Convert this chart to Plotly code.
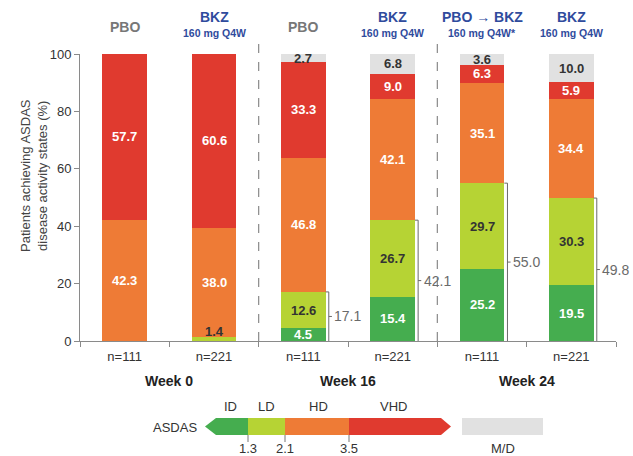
import plotly.graph_objects as go

# ---------------- data ----------------
groups = ["Week 0", "Week 16", "Week 24"]
n_labels = ["n=111", "n=221", "n=111", "n=221", "n=111", "n=221"]
arm_top = ["PBO", "BKZ", "PBO", "BKZ", "PBO \u2192 BKZ", "BKZ"]
arm_sub = ["", "160 mg Q4W", "", "160 mg Q4W", "160 mg Q4W*", "160 mg Q4W"]
id_vals = [0, 0, 4.5, 15.4, 25.2, 19.5]
ld_vals = [0, 1.4, 12.6, 26.7, 29.7, 30.3]
hd_vals = [42.3, 38.0, 46.8, 42.1, 35.1, 34.4]
vhd_vals = [57.7, 60.6, 33.3, 9.0, 6.3, 5.9]
md_vals = [0, 0, 2.7, 6.8, 3.6, 10.0]
responder = [None, None, 17.1, 42.1, 55.0, 49.8]
y_ticks = [0, 20, 40, 60, 80, 100]
legend_states = ["ID", "LD", "HD", "VHD"]
legend_cuts = ["1.3", "2.1", "3.5"]

series = [
    ("ID", id_vals, "#45ad4f", "white"),
    ("LD", ld_vals, "#b6d334", "#333333"),
    ("HD", hd_vals, "#ee7b36", "white"),
    ("VHD", vhd_vals, "#e03a2f", "white"),
    ("M/D", md_vals, "#e1e1e1", "#333333"),
]

FONT = "Liberation Sans, Arial, sans-serif"
W, H = 633, 456
L, R, T, B = 80, 17, 54, 115
PW, PH = W - L - R, H - T - B


def fx(px):
    return (px - L) / PW


def fy(py):
    return (H - B - py) / PH


ann = []
shapes = []


def A(x, y, text, xref="paper", yref="paper", size=13, color="#333333", xanchor="center",
      yanchor="middle", **kw):
    ann.append(dict(x=x, y=y, xref=xref, yref=yref, text=text, showarrow=False, xanchor=xanchor,
                    yanchor=yanchor, font=dict(size=size, color=color, family=FONT), **kw))


xs = list(range(len(n_labels)))
fig = go.Figure()
for name, vals, col, _ in series:
    fig.add_trace(go.Bar(x=xs, y=vals, name=name, marker=dict(color=col, line=dict(width=0)),
                         width=0.5, showlegend=False, hoverinfo="skip"))

# segment labels
for i in xs:
    base = 0
    for name, vals, col, tcol in series:
        v = vals[i]
        if v > 0:
            if v < 2 and name == "LD":
                y, ya = base, "bottom"
            else:
                y, ya = base + v / 2, "middle"
            A(i, y, f"<b>{v:.1f}</b>", xref="x", yref="y", color=tcol, yanchor=ya)
        base += v

# responder brackets
for i in xs:
    r = responder[i]
    if r is None:
        continue
    bx = i + 0.285
    lc = dict(color="#6a6a6a", width=1)
    shapes.append(dict(type="line", xref="x", yref="y", x0=i + 0.25, x1=bx, y0=r, y1=r, line=lc))
    shapes.append(dict(type="line", xref="x", yref="y", x0=bx, x1=bx, y0=0, y1=r, line=lc))
    shapes.append(dict(type="line", xref="x", yref="y", x0=bx, x1=bx + 0.035, y0=r / 2, y1=r / 2, line=lc))
    A(bx + 0.04, r / 2, f"{r:.1f}", xref="x", yref="y", size=14, color="#6a6a6a", xanchor="left")

# group separators
for sep in [1.5, 3.5]:
    shapes.append(dict(type="line", xref="x", yref="paper", x0=sep, x1=sep, y0=0, y1=fy(40),
                       line=dict(color="#8a8a8a", width=1.2, dash="dash")))

# headers
BLUE = "#2f4b9d"
for i in xs:
    if arm_sub[i]:
        A(i, fy(17), f"<b>{arm_top[i]}</b>", xref="x", size=14, color=BLUE)
        A(i, fy(33), f"<b>{arm_sub[i]}</b>", xref="x", size=10.5, color=BLUE)
    else:
        A(i, fy(27), f"<b>{arm_top[i]}</b>", xref="x", size=14, color="#777777")

# week labels
for g, name in enumerate(groups):
    A(2 * g + 0.5, fy(381), f"<b>{name}</b>", xref="x", size=14, color="#222222")

# y title
A(fx(34), fy(176), "Patients achieving ASDAS<br>disease activity states (%)", color="#444444",
  textangle=-90)

# ---- ASDAS scale legend ----
yt, yb, ym = 418, 435, 426.5
cols = [s[2] for s in series]


def P(px, py):
    return f"{fx(px):.5f},{fy(py):.5f}"


shapes.append(dict(type="path", xref="paper", yref="paper", line=dict(width=0), fillcolor=cols[0],
                   path=f"M {P(205, ym)} L {P(216, yt)} L {P(248, yt)} L {P(248, yb)} L {P(216, yb)} Z"))
shapes.append(dict(type="rect", xref="paper", yref="paper", line=dict(width=0), fillcolor=cols[1],
                   x0=fx(248), x1=fx(285), y0=fy(yb), y1=fy(yt)))
shapes.append(dict(type="rect", xref="paper", yref="paper", line=dict(width=0), fillcolor=cols[2],
                   x0=fx(285), x1=fx(349), y0=fy(yb), y1=fy(yt)))
shapes.append(dict(type="path", xref="paper", yref="paper", line=dict(width=0), fillcolor=cols[3],
                   path=f"M {P(349, yt)} L {P(441, yt)} L {P(451, ym)} L {P(441, yb)} L {P(349, yb)} Z"))
shapes.append(dict(type="rect", xref="paper", yref="paper", line=dict(width=0), fillcolor=cols[4],
                   x0=fx(462), x1=fx(543), y0=fy(yb), y1=fy(yt)))
for px in [248, 285, 349]:
    shapes.append(dict(type="line", xref="paper", yref="paper", x0=fx(px), x1=fx(px), y0=fy(yb), y1=fy(442),
                       line=dict(color="#777777", width=1)))
for lab, px in zip(legend_states, [230, 266, 318, 393]):
    A(fx(px), fy(407), lab)
for lab, px in zip(legend_cuts, [248, 285, 349]):
    A(fx(px), fy(448), lab)
A(fx(175), fy(427), "ASDAS")
A(fx(503), fy(448), "M/D")

fig.update_layout(
    barmode="stack",
    width=W, height=H,
    margin=dict(l=L, r=R, t=T, b=B),
    plot_bgcolor="white", paper_bgcolor="white",
    font=dict(family=FONT, size=13, color="#333333"),
    annotations=ann,
    shapes=shapes,
    xaxis=dict(range=[-0.5, 5.5], tickmode="array", tickvals=xs, ticktext=n_labels, ticks="",
               showgrid=False, zeroline=False, showline=True, linecolor="#8a8a8a", linewidth=1,
               ticklabelstandoff=3, tickfont=dict(size=13, color="#333333"),
               minor=dict(tickmode="array", tickvals=[x - 0.5 for x in xs] + [xs[-1] + 0.5],
                          ticks="outside", ticklen=5, tickcolor="#8a8a8a", showgrid=False)),
    yaxis=dict(range=[0, 100], tickmode="array", tickvals=y_ticks, ticks="outside", ticklen=5,
               tickcolor="#8a8a8a", showgrid=False, zeroline=False, showline=True, linecolor="#8a8a8a",
               linewidth=1, tickfont=dict(size=13, color="#333333")),
)

fig.write_html("out.html", config={"displayModeBar": False},
               post_script="document.body.style.margin='0';document.body.style.overflow='hidden';")
